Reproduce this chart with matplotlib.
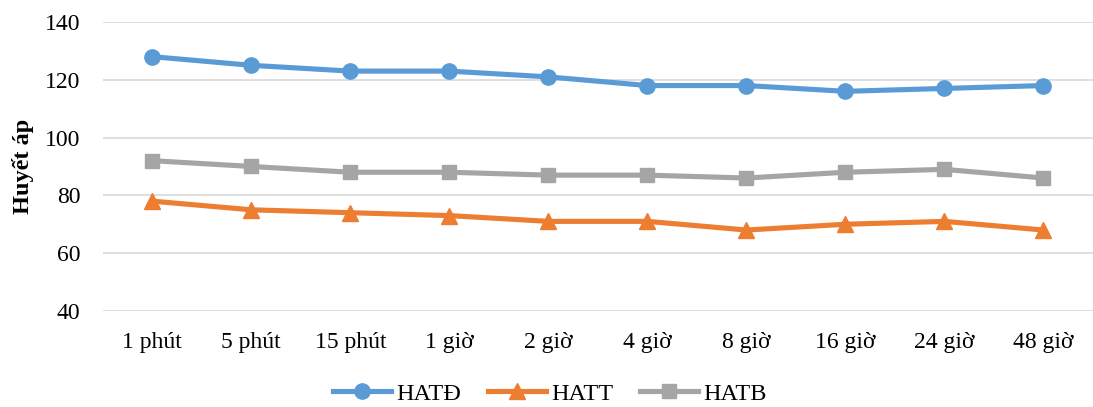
import matplotlib.pyplot as plt

# Blood pressure readings over time
times = ['1 phút', '5 phút', '15 phút', '1 giờ', '2 giờ', '4 giờ', '8 giờ', '16 giờ', '24 giờ', '48 giờ']
hatd = [128, 125, 123, 123, 121, 118, 118, 116, 117, 118]
hatt = [78, 75, 74, 73, 71, 71, 68, 70, 71, 68]
hatb = [92, 90, 88, 88, 87, 87, 86, 88, 89, 86]

plt.rcParams['font.family'] = ['Liberation Serif', 'DejaVu Serif']

fig = plt.figure(figsize=(10.93, 4.07), dpi=100)
ax = fig.add_axes([0.094, 0.236, 0.906, 0.71])

x = range(len(times))
ax.plot(x, hatd, marker='o', color='#5B9BD5', lw=3.7, ms=11, label='HATĐ')
ax.plot(x, hatt, marker='^', color='#ED7D31', lw=3.7, ms=11, label='HATT')
ax.plot(x, hatb, marker='s', color='#A5A5A5', lw=3.7, ms=10, label='HATB')

ax.set_xlim(-0.5, len(times) - 0.5)
ax.set_ylim(40, 140)
ax.set_yticks(range(40, 141, 20))
ax.set_xticks(list(x))
ax.set_xticklabels(times)
ax.tick_params(length=0, labelsize=17, colors='#000000')
ax.tick_params(axis='x', pad=15)
ax.tick_params(axis='y', pad=16)
ax.grid(axis='y', color='#D9D9D9', lw=1.2)
ax.set_axisbelow(True)
for s in ax.spines.values():
    s.set_visible(False)

ax.set_ylabel('Huyết áp', fontsize=17.5, fontweight='bold', labelpad=8)

fig.legend(loc='center', bbox_to_anchor=(0.503, 0.032), ncol=3, frameon=False,
           fontsize=17.5, handlelength=2.4, columnspacing=1.1, handletextpad=0.2)

fig.savefig('out.png', dpi=100)
